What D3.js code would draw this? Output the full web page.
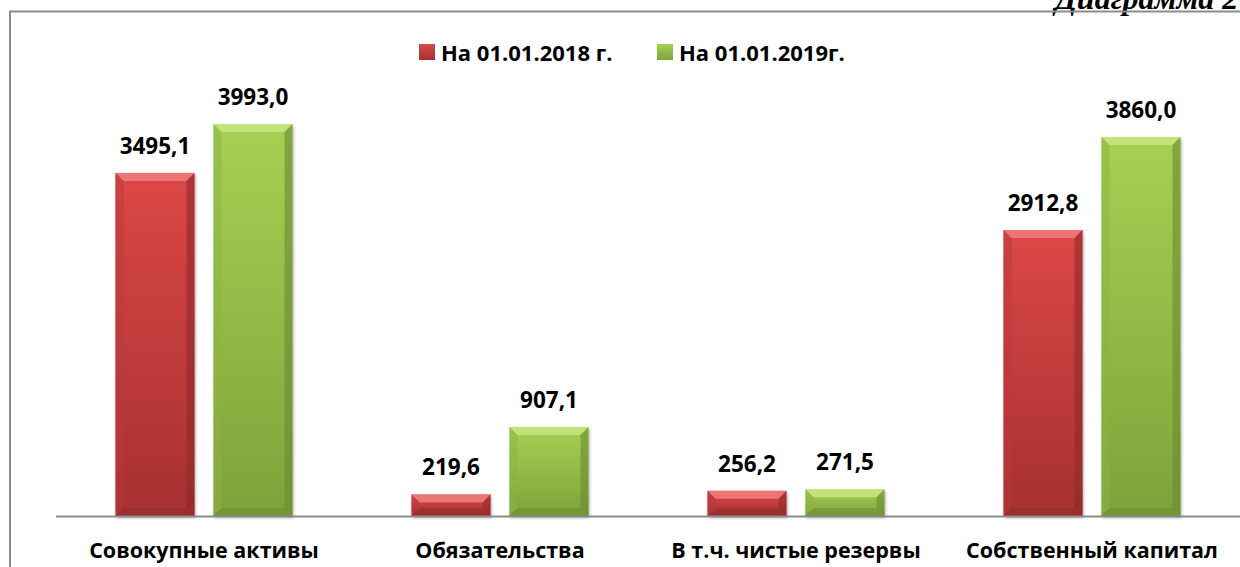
<!DOCTYPE html>
<html><head><meta charset="utf-8">
<script src="https://cdn.jsdelivr.net/npm/d3@7"></script>
<style>
html,body{margin:0;padding:0;background:#fff;}
svg{display:block;}
</style></head>
<body>
<svg id="chart" width="1240" height="567"></svg>
<script>
const categories = ["Совокупные активы", "Обязательства", "В т.ч. чистые резервы", "Собственный капитал"];
const seriesNames = ["На 01.01.2018 г.", "На 01.01.2019г."];
const values2018 = [3495.1, 219.6, 256.2, 2912.8];
const values2019 = [3993.0, 907.1, 271.5, 3860.0];
const valueLabels2018 = ["3495,1", "219,6", "256,2", "2912,8"];
const valueLabels2019 = ["3993,0", "907,1", "271,5", "3860,0"];

const svg = d3.select("#chart");
const W = 1240, H = 567;
const font = "'Open Sans', 'Noto Sans', sans-serif";

const palettes = [
  {top:"#dc4747", bot:"#a63030", bevTop:"#ee7a7a", side:"#b83a3a", bevBot:"#8f2a2a"},
  {top:"#a6d153", bot:"#7ea23b", bevTop:"#c4e47e", side:"#8db242", bevBot:"#6b8a30"}
];

const defs = svg.append("defs");
palettes.forEach((p,i)=>{
  const g = defs.append("linearGradient").attr("id","g"+i).attr("x1",0).attr("y1",0).attr("x2",0).attr("y2",1);
  g.append("stop").attr("offset","0%").attr("stop-color",p.top);
  g.append("stop").attr("offset","100%").attr("stop-color",p.bot);
  const l = defs.append("linearGradient").attr("id","lg"+i).attr("x1",0).attr("y1",0).attr("x2",0).attr("y2",1);
  l.append("stop").attr("offset","0%").attr("stop-color",p.top);
  l.append("stop").attr("offset","100%").attr("stop-color",p.bot);
});
const f = defs.append("filter").attr("id","sh").attr("x","-20%").attr("y","-20%").attr("width","140%").attr("height","140%");
f.append("feDropShadow").attr("dx",1).attr("dy",2).attr("stdDeviation",1.5).attr("flood-color","#000").attr("flood-opacity",0.3);

// title (cut off at top, as in the reference)
svg.append("text").attr("x",1055).attr("y",9)
  .attr("font-family","'Liberation Serif', 'DejaVu Serif', serif")
  .attr("font-style","italic").attr("font-weight","bold").attr("font-size",32)
  .attr("fill","#000").text("Диаграмма 2");

// frame
svg.append("path").attr("d",`M10,${H} L10,11.5 L${W},11.5`)
  .attr("fill","none").attr("stroke","#8c8c8c").attr("stroke-width",2);

const x0 = d3.scaleBand().domain(categories).range([56, 1240]).paddingInner(0).paddingOuter(0);
const y = d3.scaleLinear().domain([0, 3993]).range([516, 124]);

const g = svg.append("g");
const data = [];
categories.forEach((c,ci)=>{
  [values2018, values2019].forEach((arr,si)=>{
    data.push({c, si, v: arr[ci], label: si===0?valueLabels2018[ci]:valueLabels2019[ci]});
  });
});

const bw = 79;
data.forEach(d=>{
  const cx = x0(d.c) + x0.bandwidth()/2;
  const xl = d.si===0 ? cx - 9.5 - bw : cx + 9.5;
  const yt = y(d.v), yb = y(0);
  const h = yb - yt;
  const p = palettes[d.si];
  const bar = g.append("g").attr("filter","url(#sh)");
  bar.append("rect").attr("x",xl).attr("y",yt).attr("width",bw).attr("height",h).attr("fill",`url(#g${d.si})`);
  const b = Math.min(8, h/2);
  const xr = xl + bw;
  bar.append("path").attr("d",`M${xl},${yt} L${xr},${yt} L${xr-b},${yt+b} L${xl+b},${yt+b} Z`).attr("fill",p.bevTop).attr("opacity",0.9);
  bar.append("path").attr("d",`M${xl},${yt} L${xl+b},${yt+b} L${xl+b},${yb-b} L${xl},${yb} Z`).attr("fill",p.side).attr("opacity",0.5);
  bar.append("path").attr("d",`M${xr},${yt} L${xr-b},${yt+b} L${xr-b},${yb-b} L${xr},${yb} Z`).attr("fill",p.bevBot).attr("opacity",0.6);
  bar.append("path").attr("d",`M${xl},${yb} L${xl+b},${yb-b} L${xr-b},${yb-b} L${xr},${yb} Z`).attr("fill",p.bevBot).attr("opacity",0.5);
  g.append("text").attr("x",xl+bw/2).attr("y",yt-19)
    .attr("text-anchor","middle").attr("font-family",font).attr("font-weight","bold")
    .attr("font-size",22.5).attr("fill","#000").text(d.label);
});

// axis
svg.append("line").attr("x1",56).attr("x2",1240).attr("y1",516.5).attr("y2",516.5)
  .attr("stroke","#8c8c8c").attr("stroke-width",2);
const ax = svg.append("g").attr("transform","translate(0,517)")
  .call(d3.axisBottom(x0).tickSize(0).tickPadding(0));
ax.select(".domain").remove();
ax.selectAll("text").attr("y",41).attr("dy",0).attr("font-family",font).attr("font-weight","bold")
  .attr("font-size",21.5).attr("fill","#000");

// legend
const leg = svg.append("g");
const legX = [419, 657];
seriesNames.forEach((n,i)=>{
  leg.append("rect").attr("x",legX[i]).attr("y",44).attr("width",16).attr("height",16).attr("fill",`url(#lg${i})`);
  leg.append("text").attr("x",legX[i]+22).attr("y",61).attr("font-family",font).attr("font-weight","bold")
    .attr("font-size",22).attr("fill","#000").text(n);
});
</script>
</body></html>
